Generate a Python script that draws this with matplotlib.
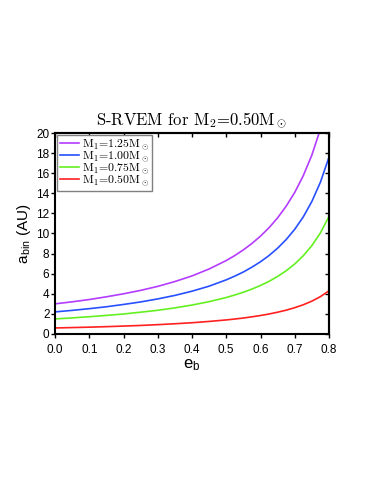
import numpy as np
import matplotlib
matplotlib.use("Agg")
import matplotlib.pyplot as plt

plt.rcParams['mathtext.fontset'] = 'custom'
plt.rcParams['mathtext.rm'] = 'cmr10'
plt.rcParams['mathtext.it'] = 'cmmi10'
plt.rcParams['mathtext.sf'] = 'Liberation Sans'
plt.rcParams['font.family'] = ['Liberation Sans', 'DejaVu Sans']
plt.rcParams['axes.formatter.use_mathtext'] = False

# eccentricity grid
e_b = [0.0, 0.05, 0.10, 0.15, 0.20, 0.25, 0.30, 0.35, 0.40, 0.45, 0.50,
       0.525, 0.55, 0.575, 0.60, 0.625, 0.65, 0.675, 0.70, 0.725, 0.75,
       0.775, 0.80]

# a_bin (AU) for each primary mass
a_125 = [3.00, 3.20, 3.43, 3.70, 4.00, 4.34, 4.74, 5.22, 5.78, 6.47, 7.31,
         7.81, 8.37, 9.01, 9.74, 10.58, 11.56, 12.72, 14.09, 15.76, 17.81,
         20.40, 23.50]
a_100 = [2.20, 2.35, 2.52, 2.71, 2.94, 3.19, 3.49, 3.84, 4.26, 4.76, 5.39,
         5.76, 6.17, 6.65, 7.19, 7.81, 8.54, 9.40, 10.42, 11.66, 13.19,
         15.11, 17.60]
a_075 = [1.50, 1.60, 1.72, 1.85, 1.99, 2.17, 2.36, 2.60, 2.88, 3.22, 3.63,
         3.88, 4.16, 4.47, 4.83, 5.24, 5.73, 6.29, 6.97, 7.79, 8.80,
         10.06, 11.70]
a_050 = [0.60, 0.64, 0.68, 0.73, 0.79, 0.85, 0.93, 1.02, 1.12, 1.25, 1.40,
         1.49, 1.59, 1.71, 1.84, 1.99, 2.17, 2.37, 2.62, 2.91, 3.27,
         3.72, 4.30]

labels = ['M$_1$=1.25M$_\\odot$', 'M$_1$=1.00M$_\\odot$',
          'M$_1$=0.75M$_\\odot$', 'M$_1$=0.50M$_\\odot$']
colors = ['#b43cff', '#2850ff', '#64f020', '#ff2020']
series = [a_125, a_100, a_075, a_050]

xticks = [0.0, 0.1, 0.2, 0.3, 0.4, 0.5, 0.6, 0.7, 0.8]
yticks = [0, 2, 4, 6, 8, 10, 12, 14, 16, 18, 20]

fig = plt.figure(figsize=(3.74, 4.84), dpi=100)
ax = fig.add_axes([55 / 374, 1 - 334 / 484, 274 / 374, 201 / 484])

for ys, c, lab in zip(series, colors, labels):
    ax.plot(e_b, ys, color=c, lw=1.2, label=lab)

ax.set_xlim(0, 0.8)
ax.set_ylim(0, 20)
ax.set_xticks(xticks)
ax.set_xticklabels([f'{v:.1f}' for v in xticks])
ax.set_yticks(yticks)
ax.tick_params(direction='out', length=3, width=1.0, labelsize=8.5)
ax.tick_params(axis='y', pad=1)
ax.tick_params(axis='x', pad=4)
for sp in ax.spines.values():
    sp.set_linewidth(1.5)

# mirrored inward ticks on top and right
top = ax.secondary_xaxis('top')
top.set_xticks(xticks)
top.set_xticklabels([])
top.tick_params(direction='in', length=3, width=1.0)
top.spines['top'].set_linewidth(1.5)
right = ax.secondary_yaxis('right')
right.set_yticks(yticks)
right.set_yticklabels([])
right.tick_params(direction='in', length=3, width=1.0)
right.spines['right'].set_linewidth(1.5)

ax.set_xlabel('e$_{\\mathsf{b}}$', fontsize=12, labelpad=1)
ax.set_ylabel('a$_{\\mathsf{bin}}$ (AU)', fontsize=11, labelpad=2)
ax.set_title('S-RVEM for M$_2$=0.50M$_\\odot$', fontfamily='cmr10',
             fontsize=12, pad=6)

leg = ax.legend(loc='upper left', prop={'family': 'cmr10', 'size': 8.5},
                handlelength=1.6, handletextpad=0.3, labelspacing=-0.22,
                borderpad=0.25, borderaxespad=0.15, fancybox=False,
                framealpha=1)
leg.get_frame().set_edgecolor('#808080')
leg.get_frame().set_linewidth(1.0)

fig.savefig('out.png', dpi=100)
